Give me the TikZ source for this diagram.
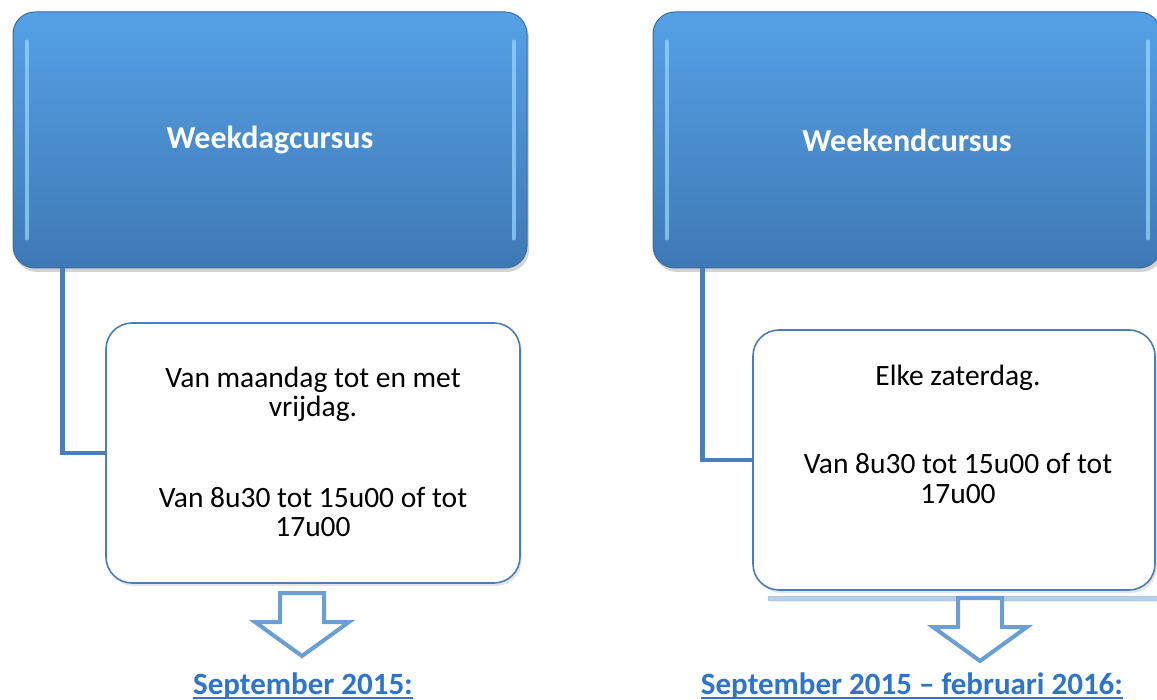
\documentclass[tikz,border=0pt]{standalone}
\usepackage{fontspec}
\setmainfont{Carlito}
\usepackage{xcolor}
\usepackage{tikz}
\usetikzlibrary{shadows}

\definecolor{kopboven}{HTML}{55A1E6}
\definecolor{koponder}{HTML}{3F79B5}
\definecolor{koprand}{HTML}{3A6EA6}
\definecolor{lijnblauw}{HTML}{4A7EBB}
\definecolor{pijlblauw}{HTML}{6A9FD6}
\definecolor{datumblauw}{HTML}{2E74CF}
\definecolor{glans}{HTML}{9AD8FF}

\begin{document}
\begin{tikzpicture}[x=1pt,y=-1pt,
cursus/.style={rectangle,rounded corners=22pt,minimum width=#1,minimum height=256pt,top color=kopboven,bottom color=koponder,draw=koprand,line width=1pt,text=white,font=\fontsize{32}{36}\selectfont\bfseries,drop shadow={shadow xshift=2pt,shadow yshift=-4pt,opacity=.35}},
infobox/.style={rectangle,rounded corners=26pt,minimum width=#1,minimum height=260pt,fill=white,draw=lijnblauw,line width=1.6pt,drop shadow={shadow xshift=2pt,shadow yshift=-3pt,opacity=.2}},
inhoud/.style={align=center,font=\fontsize{29.5}{29.5}\selectfont,text=black},
verbinding/.style={draw=lijnblauw,line width=4.5pt},
glim/.style={draw=glans,line width=4pt,line cap=round,opacity=.7},
pijl/.style={draw=pijlblauw,line width=4pt,fill=white},
datum/.style={anchor=base,inner sep=0pt,text=datumblauw,font=\fontsize{31}{36}\selectfont\bfseries},
onderstreep/.style={draw=datumblauw,line width=2pt}]
\clip (0,0) rectangle (1157,700);
% koppen
\node[cursus=514pt] (wkdag) at (270,140) {Weekdagcursus};
\node[cursus=508pt] (wkend) at (907,140) {Weekendcursus};
\foreach \k in {wkdag,wkend} {
   \draw[glim] ([xshift=14pt,yshift=-30pt]\k.north west) -- ([xshift=14pt,yshift=30pt]\k.south west);
   \draw[glim] ([xshift=-14pt,yshift=-30pt]\k.north east) -- ([xshift=-14pt,yshift=30pt]\k.south east);
}
% strook onder rechts
\draw[draw=black!35,fill=pijlblauw!50,rounded corners=2pt] (768,596) rectangle (1170,601);
% uitleg
\node[infobox=414pt] (wkdagbox) at (313,453) {};
\node[infobox=402pt] (wkendbox) at (954,460) {};
\node[inhoud] (wkdagtekst) at (313,452) {Van maandag tot en met\\vrijdag.\\[61pt]Van 8u30 tot 15u00 of tot\\17u00};
\node[inhoud] (wkendtekst) at (958,434) {Elke zaterdag.\\[59pt]Van 8u30 tot 15u00 of tot\\17u00};
\draw[verbinding] ([xshift=50pt]wkdag.south west) |- (wkdagbox.west);
\draw[verbinding] ([xshift=50pt]wkend.south west) |- (wkendbox.west);
% pijlen
\foreach \ax/\ay in {302/593,980/598} {
   \draw[pijl] (\ax-22,\ay) -- (\ax+22,\ay) -- (\ax+22,\ay+29) -- (\ax+47,\ay+29)
      -- (\ax,\ay+63) -- (\ax-47,\ay+29) -- (\ax-22,\ay+29) -- cycle;
}
\node[datum] (wkdagdatum) at (303,694) {September 2015:};
\node[datum] (wkenddatum) at (912,694) {September 2015 – februari 2016:};
\draw[onderstreep] ([yshift=-3.5pt]wkdagdatum.base west) -- ([yshift=-3.5pt]wkdagdatum.base east);
\draw[onderstreep] ([yshift=-3.5pt]wkenddatum.base west) -- ([yshift=-3.5pt]wkenddatum.base east);
\end{tikzpicture}
\end{document}
